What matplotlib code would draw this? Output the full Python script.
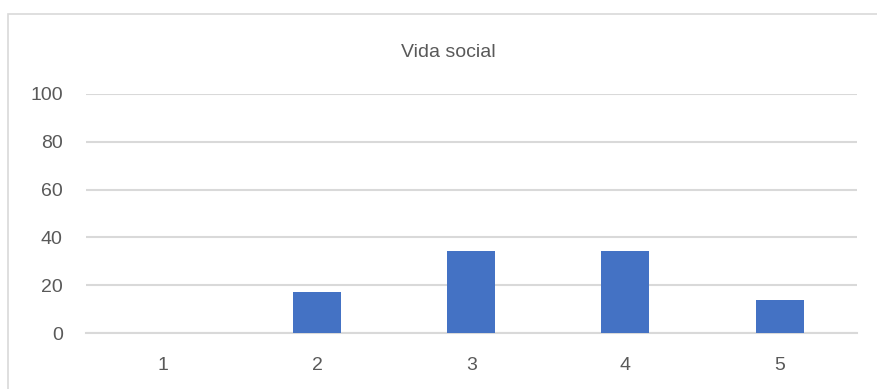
import matplotlib.pyplot as plt
from matplotlib.patches import Rectangle

# Vida social - percentage of respondents per score
categories = ['1', '2', '3', '4', '5']
values = [0, 17.24, 34.48, 34.48, 13.79]
y_ticks = [0, 20, 40, 60, 80, 100]

bar_color = '#4472C4'
grid_color = '#D9D9D9'
text_color = '#595959'

plt.rcParams['font.family'] = ['Liberation Sans', 'DejaVu Sans']

fig = plt.figure(figsize=(8.78, 3.89), dpi=100)
fig.patch.set_facecolor('white')

# chart frame (outer border)
fig.patches.append(Rectangle((8 / 878, -0.05), 1.0, (389 - 14) / 389 + 0.05,
                             transform=fig.transFigure, fill=False,
                             edgecolor='#D9D9D9', linewidth=1.2))

ax = fig.add_axes([85.7 / 878, 56 / 389, 771 / 878, 239 / 389])
x = list(range(len(categories)))
ax.bar(x, values, width=0.31, color=bar_color, zorder=3)

ax.set_xlim(-0.5, len(categories) - 0.5)
ax.set_ylim(0, 100)
ax.set_yticks(y_ticks)
ax.set_xticks(x)
ax.set_xticklabels(categories)
ax.grid(axis='y', color=grid_color, linewidth=1.5, zorder=0)
ax.set_axisbelow(True)

for side in ['top', 'right', 'left']:
    ax.spines[side].set_visible(False)
ax.spines['bottom'].set_color(grid_color)
ax.spines['bottom'].set_linewidth(1.5)

ax.tick_params(axis='both', length=0, labelsize=14, labelcolor=text_color)
ax.tick_params(axis='y', pad=16.5)
ax.tick_params(axis='x', pad=17)

fig.text(448 / 878, 1 - 57 / 389, 'Vida social', ha='center', va='baseline',
         fontsize=14, color=text_color)

plt.savefig('out.png', dpi=100)
